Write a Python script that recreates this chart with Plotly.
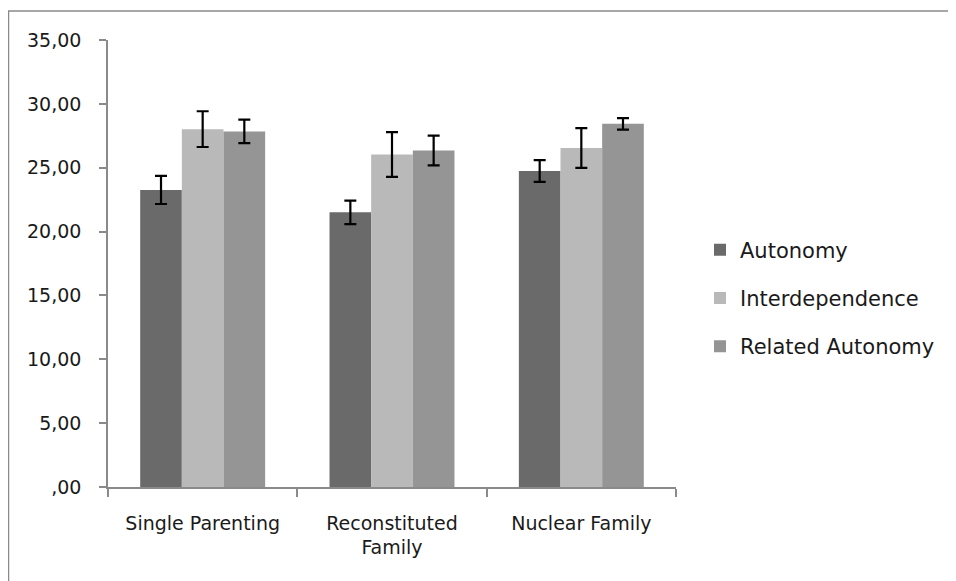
import plotly.graph_objects as go

categories = ["Single Parenting", "Reconstituted Family", "Nuclear Family"]
tick_labels = ["Single Parenting", "Reconstituted<br>Family", "Nuclear Family"]
series_names = ["Autonomy", "Interdependence", "Related Autonomy"]
autonomy = [23.26, 21.51, 24.74]
interdependence = [28.02, 26.04, 26.54]
related_autonomy = [27.84, 26.35, 28.44]
autonomy_err = [1.1, 0.92, 0.85]
interdependence_err = [1.4, 1.75, 1.56]
related_autonomy_err = [0.92, 1.16, 0.45]
y_tickvals = [0, 5, 10, 15, 20, 25, 30, 35]
y_ticktext = [",00", "5,00", "10,00", "15,00", "20,00", "25,00", "30,00", "35,00"]

colors = ["#6a6a6a", "#b9b9b9", "#959595"]
values = [autonomy, interdependence, related_autonomy]
errors = [autonomy_err, interdependence_err, related_autonomy_err]

FONT = "DejaVu Sans"
fig = go.Figure()
for name, vals, errs, col in zip(series_names, values, errors, colors):
    fig.add_trace(go.Bar(
        x=categories, y=vals, name=name, legendgroup=name,
        marker=dict(color=col, line=dict(width=0)),
        error_y=dict(type="data", array=errs, visible=True, color="black",
                     thickness=2.2, width=6),
    ))

# page has an 8px body margin; work in page pixels and subtract it
OFF = 8
W, H = 956 - OFF, 581 - OFF
L, R, T, B = 108 - OFF, 956 - 676, 40 - OFF, 581 - 487
pw, ph = W - L - R, H - T - B

def px2paper(x, y):
    # x, y in page pixels
    return (x - OFF - L) / pw, (H - B - (y - OFF)) / ph

x0, y1 = px2paper(8.5, 11)
x1, y0 = px2paper(1000, 620)

fig.update_layout(
    width=W, height=H,
    margin=dict(l=L, r=R, t=T, b=B, autoexpand=False),
    paper_bgcolor="white", plot_bgcolor="white",
    barmode="group", bargap=0.34, bargroupgap=0,
    font=dict(family=FONT, size=19, color="#1a1a1a"),
    legend=dict(x=px2paper(700, 0)[0], y=px2paper(0, 298)[1], xanchor="left", yanchor="middle",
                font=dict(size=21, family=FONT, color="#1a1a1a"),
                tracegroupgap=18, itemwidth=30, bgcolor="rgba(0,0,0,0)"),
    xaxis=dict(tickmode="array", tickvals=categories, ticktext=tick_labels,
               tickson="boundaries", ticks="outside", ticklen=8, tickwidth=1.5,
               tickcolor="#8a8a8a", showline=True, linecolor="#8a8a8a", linewidth=1.5,
               showgrid=False, zeroline=False, ticklabelstandoff=18),
    yaxis=dict(range=[0, 35], tickmode="array", tickvals=y_tickvals, ticktext=y_ticktext,
               ticks="outside", ticklen=7, tickwidth=1.5, tickcolor="#8a8a8a",
               showline=True, linecolor="#8a8a8a", linewidth=1.5,
               showgrid=False, zeroline=False, ticklabelstandoff=14),
    shapes=[dict(type="rect", xref="paper", yref="paper", x0=x0, x1=x1, y0=y0, y1=y1,
                 line=dict(color="#8a8a8a", width=1.5), layer="above")],
)

fig.write_html("out.html")
